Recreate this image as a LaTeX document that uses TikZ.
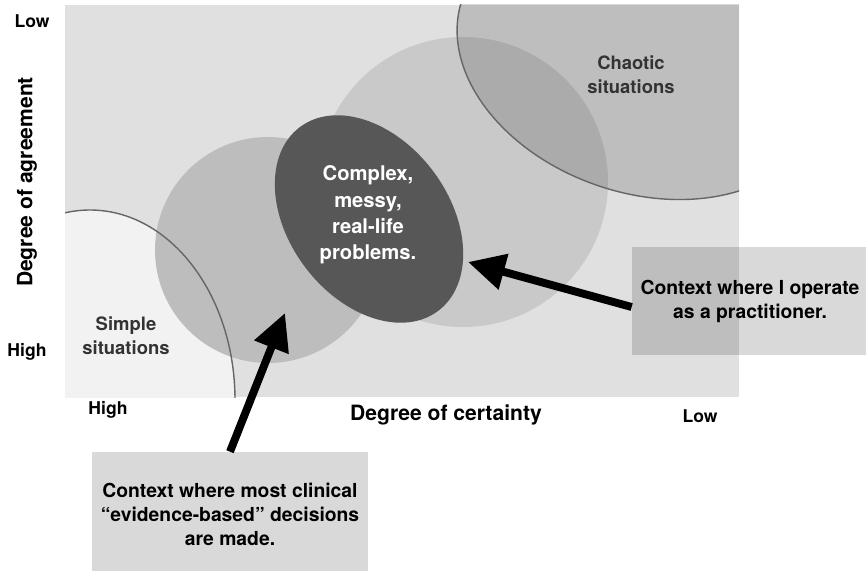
\documentclass[tikz,border=0pt]{standalone}
\usepackage{fontspec}
\setmainfont{TeX Gyre Heros}
\usetikzlibrary{arrows.meta,positioning}

\begin{document}
\begin{tikzpicture}[x=0.02cm,y=-0.02cm,>={Triangle[length=21pt,width=20pt]},
    lbl/.style={font=\bfseries\fontsize{10}{12}\selectfont},
    axis/.style={font=\bfseries\fontsize{12}{14}\selectfont},
    zone/.style={align=center,text=black!80,font=\bfseries\fontsize{10.5}{13.6}\selectfont},
    note/.style={fill=black,fill opacity=0.15,text opacity=1,align=center,font=\bfseries\fontsize{11}{13.6}\selectfont},
    rim/.style={draw=black!60,line width=0.8pt},
    pointer/.style={->,line width=4.5pt}]
  \useasboundingbox (0,0) rectangle (866,571);
  % plot area with the regions
  \fill[black!12] (65,5) rectangle (739,397);
  \begin{scope}
    \clip (65,5) rectangle (739,397);
    \fill[black!5] (90,400) ellipse [x radius=145,y radius=190];
    \fill[black!26] (268,250) circle [radius=113];
    \fill[black!21] (463,182) circle [radius=145];
    \fill[black,fill opacity=0.15] (640,60.5) ellipse [x radius=188,y radius=132,rotate=-19];
    \fill[black!66] (369,219) ellipse [x radius=115,y radius=80,rotate=-53];
    \draw[rim] (90,400) ellipse [x radius=145,y radius=190];
    \draw[rim] (640,60.5) ellipse [x radius=188,y radius=132,rotate=-19];
  \end{scope}

  % axes
  \node[lbl] (ylow) at (32,21) {Low};
  \node[axis,rotate=90] (yaxis) at (27,182) {Degree of agreement};
  \node[lbl] (yhigh) at (27,352) {High};
  \node[lbl] (xhigh) at (108,410) {High};
  \node[axis] (xaxis) at (446,415) {Degree of certainty};
  \node[lbl] (xlow) at (700,416) {Low};

  % region names
  \node[zone] (simple) at (126,336) {Simple\\situations};
  \node[zone] (chaotic) at (631,75) {Chaotic\\situations};
  \node[zone,text=white,font=\bfseries\fontsize{11.5}{15}\selectfont] (complex) at (368,215) {Complex,\\messy,\\real-life\\problems.};

  % callouts
  \node[note,minimum width=4.72cm,minimum height=2.16cm] (practice) at (750,301) {Context where I operate\\as a practitioner.};
  \node[note,minimum width=5.54cm,minimum height=2.48cm] (evidence) at (230,514) {Context where most clinical\\“evidence-based” decisions\\are made.};
  \coordinate (ptA) at (468,262);
  \coordinate (ptB) at (285,313);
  \draw[pointer] ([yshift=-0.12cm]practice.west) -- (ptA);
  \draw[pointer] (evidence.north) -- (ptB);
\end{tikzpicture}
\end{document}
